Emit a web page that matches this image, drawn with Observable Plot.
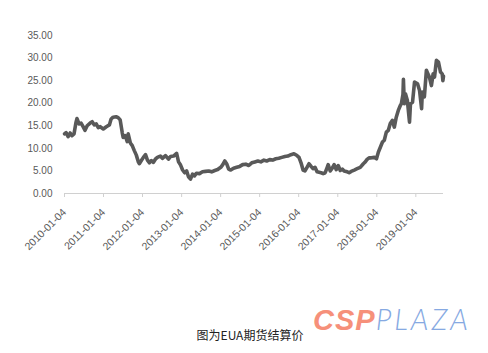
<!DOCTYPE html>
<html>
<head>
<meta charset="utf-8">
<script src="https://cdn.jsdelivr.net/npm/d3@7"></script>
<script src="https://cdn.jsdelivr.net/npm/@observablehq/plot@0.6"></script>
<style>
  html, body { margin: 0; padding: 0; background: #fff; }
  #wrap { position: relative; width: 488px; height: 353px; overflow: hidden; }
  #caption { position: absolute; left: 0; width: 500px; top: 326px; text-align: center;
    font-family: "Noto Sans CJK SC", sans-serif; font-size: 12px; color: #222; }
  #logo { position: absolute; left: 313px; top: 301px; white-space: nowrap; font-style: italic; }
  #logo .csp { font-family: "Liberation Sans", Arial, sans-serif; font-weight: 900; font-size: 29px; color: #f6907a; letter-spacing: 1px; }
  #logo .plaza { font-family: "Lato", "Liberation Sans", sans-serif; font-weight: 300; font-size: 29px; color: #86a9e2; letter-spacing: 3px; }
</style>
</head>
<body>
<div id="wrap">
  <div id="chart"></div>
  <div id="caption">图为EUA期货结算价</div>
  <div id="logo"><span class="csp">CSP</span><span class="plaza">PLAZA</span></div>
</div>
<script>
const dates = [
  "2010-01-04","2010-01-19","2010-02-07","2010-02-26","2010-03-15","2010-04-03","2010-04-22","2010-05-01","2010-05-20","2010-06-08",
  "2010-06-27","2010-07-15","2010-08-04","2010-09-01","2010-09-20","2010-10-09","2010-10-28","2010-11-16","2010-12-04","2011-01-02",
  "2011-01-30","2011-02-28","2011-03-16","2011-04-04","2011-05-02","2011-05-21","2011-06-09","2011-06-28","2011-07-07","2011-07-26",
  "2011-08-14","2011-08-23","2011-09-12","2011-09-30","2011-10-19","2011-11-07","2011-11-26","2011-12-05","2011-12-24","2012-01-12",
  "2012-02-01","2012-02-19","2012-03-08","2012-03-27","2012-04-15","2012-05-03","2012-05-22","2012-06-19","2012-07-08","2012-08-06",
  "2012-09-03","2012-09-22","2012-10-20","2012-11-18","2012-12-06","2012-12-25","2013-01-13","2013-02-01","2013-02-20","2013-03-09",
  "2013-03-28","2013-04-16","2013-05-04","2013-05-23","2013-06-20","2013-07-18","2013-08-16","2013-09-14","2013-10-12","2013-11-10",
  "2013-12-07","2014-01-05","2014-01-24","2014-02-12","2014-03-01","2014-03-20","2014-04-08","2014-05-05","2014-06-03","2014-07-01",
  "2014-07-29","2014-08-27","2014-09-24","2014-10-22","2014-11-20","2014-12-18","2015-01-15","2015-02-13","2015-03-11","2015-04-08",
  "2015-05-06","2015-06-04","2015-07-02","2015-07-30","2015-08-28","2015-09-25","2015-10-23","2015-11-21","2015-12-19","2016-01-07",
  "2016-01-26","2016-02-14","2016-03-03","2016-03-22","2016-04-10","2016-04-29","2016-05-17","2016-06-05","2016-06-24","2016-07-13",
  "2016-08-01","2016-08-20","2016-09-08","2016-09-27","2016-10-06","2016-10-25","2016-11-13","2016-12-01","2016-12-20","2017-01-08",
  "2017-01-27","2017-02-15","2017-03-04","2017-04-02","2017-04-20","2017-05-09","2017-06-07","2017-07-04","2017-08-02","2017-08-31",
  "2017-09-18","2017-10-07","2017-10-26","2017-11-14","2017-12-12","2018-01-01","2018-01-19","2018-02-07","2018-02-26","2018-03-15",
  "2018-04-03","2018-04-22","2018-05-10","2018-05-29","2018-06-17","2018-07-05","2018-07-24","2018-08-12","2018-08-22","2018-09-06",
  "2018-09-10","2018-09-18","2018-09-29","2018-10-17","2018-11-06","2018-11-15","2018-12-04","2018-12-23","2019-01-20","2019-02-08",
  "2019-02-27","2019-03-06","2019-03-15","2019-03-25","2019-04-13","2019-04-28","2019-05-11","2019-05-30","2019-06-15","2019-06-28",
  "2019-07-16","2019-08-04","2019-08-23","2019-09-08","2019-09-14","2019-09-20"
];
const values = [
  13.2,13.5,12.6,13.4,12.8,13.2,15.8,16.6,15.4,15.6,
  14.8,14.0,15.0,15.6,15.9,15.2,15.4,14.6,14.8,14.3,
  14.8,15.2,16.5,16.9,17.0,16.8,16.3,13.5,12.4,12.8,
  11.5,13.2,11.2,10.6,9.5,8.5,7.0,6.6,7.3,8.0,
  8.6,7.4,6.8,7.3,6.9,7.6,8.0,8.3,7.8,8.4,
  7.6,8.2,8.3,8.9,7.0,6.3,5.2,4.6,5.0,3.7,
  3.2,4.3,3.9,4.5,4.4,4.8,4.9,5.0,4.8,5.1,
  5.3,5.8,6.4,7.2,6.6,5.4,5.2,5.6,5.8,6.0,
  6.4,6.5,6.2,6.8,7.0,7.2,7.0,7.4,7.2,7.5,
  7.4,7.7,7.8,8.0,8.2,8.3,8.6,8.8,8.4,8.0,
  6.8,5.2,5.0,5.8,6.6,6.0,5.5,5.8,4.8,4.7,
  4.6,4.4,4.6,5.8,6.4,5.0,5.6,6.4,5.3,6.2,
  5.1,5.4,5.0,4.8,4.6,4.9,5.2,5.5,5.8,6.6,
  7.0,7.6,7.9,7.9,8.0,7.7,9.2,10.3,11.4,11.8,
  13.6,14.0,15.5,16.2,14.7,16.9,18.4,19.5,19.9,22.0,
  25.3,19.9,22.1,20.6,15.8,19.9,20.2,24.7,24.3,22.8,
  18.8,22.5,21.4,21.4,27.3,26.5,25.8,23.9,26.5,25.8,
  29.5,29.1,26.9,26.5,25.0,26.0
];
const yTicks = [0, 5, 10, 15, 20, 25, 30, 35];
const xTickLabels = ["2010-01-04","2011-01-04","2012-01-04","2013-01-04","2014-01-04","2015-01-04","2016-01-04","2017-01-04","2018-01-04","2019-01-04"];
const xDomain = ["2010-01-04", "2019-09-20"];

const data = dates.map((d, i) => ({date: new Date(d), value: values[i]}));
const xTicks = xTickLabels.map(d => new Date(d));

const chart = Plot.plot({
  width: 488,
  height: 353,
  marginLeft: 64,
  marginRight: 45,
  marginTop: 35,
  marginBottom: 160,
  style: {fontFamily: "'Liberation Sans', Arial, sans-serif", fontSize: "10px", color: "#595959", background: "#fff"},
  x: {type: "utc", domain: xDomain.map(d => new Date(d))},
  y: {domain: [0, 35]},
  marks: [
    Plot.ruleY([0], {stroke: "#d0d0d0", strokeWidth: 1}),
    Plot.axisY({ticks: yTicks, tickFormat: d3.format(".2f"), tickSize: 0, tickPadding: 12, fontSize: 10, fill: "#595959", label: null}),
    Plot.axisX({ticks: xTicks, tickFormat: d3.utcFormat("%Y-%m-%d"), tickRotate: -45, tickSize: 4, tickPadding: 13, stroke: "#d0d0d0", fill: "#595959", fontSize: 10.5, label: null}),
    Plot.lineY(data, {x: "date", y: "value", stroke: "#595959", strokeWidth: 3.6, strokeLinejoin: "round"})
  ]
});
document.getElementById("chart").appendChild(chart);
</script>
</body>
</html>
